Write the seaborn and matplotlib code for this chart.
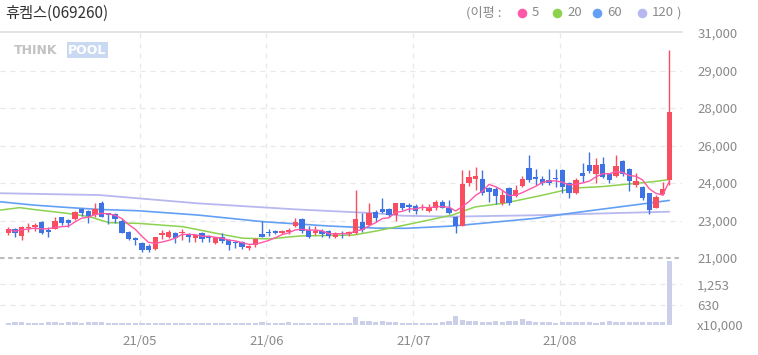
import numpy as np
import pandas as pd
import matplotlib
matplotlib.use('Agg')
import matplotlib.pyplot as plt
import seaborn as sns

sns.set_style('white')
plt.rcParams['font.family'] = ['Noto Sans CJK KR', 'DejaVu Sans']

# ---- data (won, volume in x10,000 shares) ----
title = '휴켐스(069260)'
month_labels = ['21/05', '21/06', '21/07', '21/08']
month_first_idx = [20, 39, 61, 83]

opens = [22100, 22280, 21990, 22320, 22390, 22610, 22240, 22290, 22810, 22690,
         22720, 23160, 23090, 22910, 23460, 22980, 22960, 22660, 22170, 21870,
         21680, 21530, 21390, 22020, 21950, 22120, 22100, 22020, 21880, 22100,
         21980, 21680, 21950, 21800, 21730, 21730, 21430, 21580, 22070, 22170,
         22200, 22120, 22140, 22440, 22720, 22240, 22120, 22210, 22210, 21950,
         22120, 22070, 22100, 22610, 22470, 23060, 23160, 23160, 22910, 23430,
         23360, 23310, 23210, 23100, 23240, 23500, 23210, 22810, 22420, 24350,
         24500, 24500, 24100, 24050, 23430, 24100, 23760, 24200, 24990, 24610,
         24500, 24470, 24570, 24910, 24350, 23900, 24790, 25130, 24730, 25180,
         24730, 24640, 25320, 24940, 24240, 24170, 23880, 23210, 23840, 24470]
highs = [22390, 22320, 22440, 22570, 22570, 22660, 22390, 22810, 22840, 22720,
         23100, 23210, 23130, 23430, 23530, 23010, 22980, 22720, 22210, 21950,
         21730, 21610, 21950, 22240, 22240, 22170, 22280, 22100, 22020, 22140,
         22030, 21920, 22120, 21830, 21770, 21770, 21580, 21890, 22660, 22280,
         22240, 22240, 22350, 22760, 22760, 22420, 22420, 22280, 22240, 22170,
         22200, 22200, 24020, 23010, 23430, 23130, 23680, 23220, 23460, 23460,
         23460, 23400, 23400, 23400, 23600, 23560, 23580, 22870, 24910, 24910,
         25030, 24910, 24170, 24170, 24020, 24170, 24240, 24650, 25580, 24940,
         24650, 24940, 24940, 24940, 24390, 24540, 25210, 25720, 25430, 25480,
         24790, 25580, 25380, 24990, 24760, 24200, 23900, 23800, 24390, 30240]
lows = [22020, 21950, 21800, 22170, 22210, 22070, 21920, 22280, 22470, 22390,
        22690, 22870, 22540, 22840, 22810, 22510, 22540, 22100, 21800, 21580,
        21280, 21280, 21360, 21830, 21880, 21650, 21800, 21730, 21730, 21690,
        21710, 21640, 21650, 21360, 21440, 21420, 21360, 21470, 21920, 21990,
        22070, 22070, 22070, 22390, 22120, 21880, 22020, 21950, 21880, 21880,
        21880, 21980, 22070, 22170, 22420, 22610, 22980, 22840, 22660, 23130,
        23060, 22950, 23130, 23060, 23130, 23210, 22950, 22100, 22420, 24200,
        24020, 23800, 23500, 23400, 23360, 23360, 23700, 24170, 24390, 24240,
        24240, 24240, 24170, 23900, 23650, 23850, 24390, 24760, 24320, 24540,
        24320, 24610, 24640, 23990, 24170, 23560, 22960, 23210, 23800, 24240]
closes = [22280, 22100, 22390, 22390, 22470, 22100, 22170, 22660, 22570, 22570,
          23060, 23010, 22870, 23160, 22840, 22920, 22720, 22130, 21830, 21800,
          21360, 21360, 21920, 22100, 22170, 21870, 22170, 21950, 22020, 21830,
          21880, 21920, 21770, 21580, 21650, 21500, 21530, 21830, 21950, 22100,
          22120, 22200, 22240, 22610, 22200, 21950, 22210, 22070, 21980, 22120,
          22070, 22140, 22720, 22240, 22980, 22760, 23060, 22910, 23430, 23210,
          23280, 23100, 23280, 23280, 23500, 23240, 23010, 22420, 24280, 24590,
          24650, 23900, 23950, 23760, 23800, 23460, 24020, 24500, 24470, 24500,
          24320, 24350, 24500, 24170, 23900, 24470, 24650, 24880, 25130, 24610,
          24470, 25090, 24730, 24440, 24440, 23650, 23130, 23720, 24050, 27500]
volumes = [70, 100, 80, 70, 75, 70, 95, 80, 75, 90,
           80, 75, 85, 95, 90, 75, 70, 70, 70, 65,
           65, 60, 70, 65, 65, 60, 65, 60, 60, 60,
           60, 60, 60, 60, 65, 60, 60, 70, 80, 65,
           65, 60, 80, 70, 65, 60, 60, 60, 60, 60,
           60, 60, 260, 130, 110, 85, 110, 80, 80, 75,
           70, 70, 70, 75, 75, 90, 110, 270, 150, 120,
           110, 100, 90, 110, 80, 110, 120, 170, 110, 80,
           100, 90, 70, 80, 90, 100, 100, 90, 75, 100,
           110, 100, 80, 100, 80, 95, 100, 80, 90, 1980]

# moving-average lines read at sample points (candle index, won)
ma20_idx = [-1.2, 1.7, 3.7, 8.7, 12.1, 15.1, 19.5, 26.2, 31.1, 35.1, 39.1, 43.7,
            51.7, 55.1, 59.5, 66.5, 69.9, 74.3, 79.5, 84.7, 88.7, 96.5, 99]
ma20_val = [23130, 23240, 23160, 22990, 22840, 22570, 22540, 22390, 22100, 21880,
            21850, 21980, 22020, 22200, 22470, 22910, 23270, 23440, 23760, 24110,
            24170, 24390, 24490]
ma60_idx = [-1.2, 3.7, 8.7, 13.6, 19.5, 28.4, 38.3, 48.1, 55.1, 59.5, 66.5, 78.8, 84.2, 99]
ma60_val = [23500, 23355, 23250, 23160, 23100, 22910, 22610, 22420, 22330, 22320,
            22420, 22760, 22990, 23560]
ma120_idx = [-1.2, 13.6, 28.4, 43.2, 55.1, 59.0, 66.5, 78.8, 86.2, 99]
ma120_val = [23880, 23800, 23430, 23160, 22990, 22880, 22840, 22900, 22960, 23060]

RED = '#f84e5f'
BLUE = '#3f72e3'
C5, C20, C60, C120 = '#ff58a6', '#8dd24f', '#63a0f5', '#b8b8f0'
GRID = '#e8e8e8'
TXT = '#8a8a8a'

df = pd.DataFrame({'idx': np.arange(len(closes)), 'open': opens, 'high': highs,
                   'low': lows, 'close': closes, 'vol': volumes})
df['ma5'] = df['close'].rolling(5, min_periods=1).mean()
up = df['close'] >= df['open']
ccol = np.where(up, RED, BLUE)

fig = plt.figure(figsize=(7.58, 3.55), dpi=100)
W, H = 758, 355
ax = fig.add_axes([0, 1 - 258 / H, 682 / W, (258 - 32) / H])
axv = fig.add_axes([0, 1 - 325 / H, 682 / W, 67 / H])

xlim = (-1.25, 100.9)

# ---- price panel ----
step = 10000 / 6
ptick = [21000 + k * step for k in range(7)]
plab = ['21,000', '23,000', '24,000', '26,000', '28,000', '29,000', '31,000']
for v in ptick[1:-1]:
    ax.axhline(v, color=GRID, lw=0.9, ls=(0, (4, 4)), zorder=0)
for m in month_first_idx:
    ax.axvline(m - 0.35, color=GRID, lw=0.9, ls=(0, (4, 4)), zorder=0)
    axv.axvline(m - 0.35, color=GRID, lw=0.9, ls=(0, (4, 4)), zorder=0)

sns.lineplot(x=ma120_idx, y=ma120_val, ax=ax, color=C120, lw=1.3, zorder=2)
sns.lineplot(x=ma60_idx, y=ma60_val, ax=ax, color=C60, lw=1.2, zorder=2)
sns.lineplot(x=ma20_idx, y=ma20_val, ax=ax, color=C20, lw=1.1, zorder=2)

ax.vlines(df['idx'], df['low'], df['high'], colors=ccol, lw=1.0, zorder=3)
body_lo = np.minimum(df['open'], df['close'])
body_h = np.maximum((df['close'] - df['open']).abs(), 50)
ax.bar(df['idx'], body_h, bottom=body_lo, width=0.8, color=ccol, lw=0, zorder=4)
sns.lineplot(data=df, x='idx', y='ma5', ax=ax, color=C5, lw=1.0, zorder=5)

ax.set_xlim(*xlim)
ax.set_ylim(21000, 31050)
ax.set_yticks(ptick)
ax.set_yticklabels(plab)
ax.yaxis.tick_right()
ax.tick_params(axis='y', length=0, pad=11, labelsize=9.5, labelcolor=TXT)
ax.set_xticks([])
ax.set_xlabel('')
ax.set_ylabel('')
for s in ['left', 'right', 'bottom']:
    ax.spines[s].set_visible(False)
ax.spines['top'].set_color('#dedede')
ax.spines['top'].set_linewidth(1.2)
ax.axhline(21000, color='#b5b5b5', lw=1.3, ls=(0, (2.5, 2)), zorder=1, clip_on=False)

# ---- volume panel ----
axv.axhline(630, color=GRID, lw=0.9, ls=(0, (4, 4)), zorder=0)
axv.axhline(1253, color=GRID, lw=0.9, ls=(0, (4, 4)), zorder=0)
axv.bar(df['idx'], df['vol'], width=0.8, color='#cbd0e8', lw=0, zorder=2)
axv.set_xlim(*xlim)
axv.set_ylim(0, 2070)
axv.set_yticks([0, 630, 1253])
axv.set_yticklabels(['x10,000', '630', '1,253'])
axv.yaxis.tick_right()
axv.tick_params(axis='y', length=0, pad=11, labelsize=9.5, labelcolor=TXT)
axv.set_xticks([m - 0.35 for m in month_first_idx])
axv.set_xticklabels(month_labels)
axv.tick_params(axis='x', length=0, pad=7, labelsize=9.5, labelcolor=TXT)
axv.set_xlabel('')
axv.set_ylabel('')
for s in axv.spines.values():
    s.set_visible(False)
axv.patch.set_alpha(0)

# ---- header: title, watermark, legend ----
ov = fig.add_axes([0, 0, 1, 1], zorder=10)
ov.set_xlim(0, W)
ov.set_ylim(H, 0)
ov.axis('off')
ov.patch.set_alpha(0)
ov.text(5, 13, title, fontsize=11, color='#333333', va='center', ha='left')
ov.text(14, 50, 'THINK', fontsize=9, fontweight='bold', color='#c2c2c2',
        va='center', ha='left', family='DejaVu Sans')
ov.text(68, 50, 'POOL', fontsize=9, fontweight='bold', color='white',
        va='center', ha='left', family='DejaVu Sans',
        bbox=dict(boxstyle='square,pad=0.1', fc='#c9d9f2', ec='none'))

ov.text(466, 13, '(이평 :', fontsize=9.5, color=TXT, va='center', ha='left')
leg = [('5', C5, 522), ('20', C20, 557), ('60', C60, 597), ('120', C120, 642)]
for lab, c, xp in leg:
    ov.scatter([xp], [13], s=48, color=c, lw=0)
    ov.text(xp + 10, 13, lab, fontsize=9.5, color=TXT, va='center', ha='left')
ov.text(676, 13, ')', fontsize=9.5, color=TXT, va='center', ha='left')

fig.savefig('out.png', dpi=100)
